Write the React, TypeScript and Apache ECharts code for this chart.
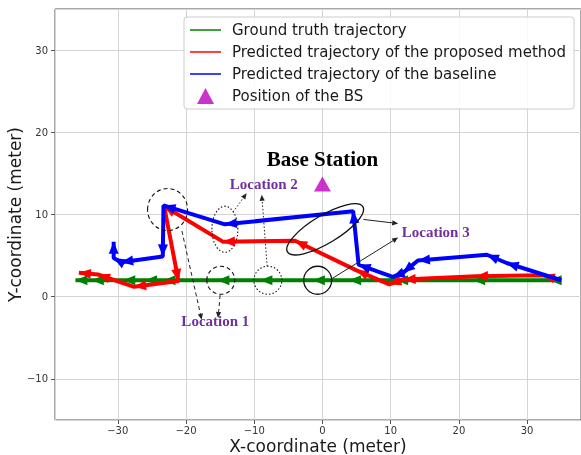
import React, { useEffect, useRef } from 'react';
import * as echarts from 'echarts';

// ---- data ----
const gtX = [35, 33.3, 22.1, 10.8, 9.3, 3.9, -1.4, -9.1, -15.4, -23.3, -26, -29.2, -33.8, -36.2];
const gtY = [2, 2, 2, 2, 2, 2, 2, 2, 2, 2, 2, 2, 2, 2];
const propX = [35, 32.3, 22.5, 11.9, 9.8, 5.0, -4.0, -14.6, -23.2, -21.1, -27.6, -32.9, -35.7];
const propY = [2, 2.6, 2.5, 2.1, 1.5, 3.2, 6.8, 6.7, 11.0, 1.9, 1.2, 2.7, 2.9];
const baseX = [35, 27, 24.1, 14, 11.8, 10.3, 5.3, 4.5, -14.3, -23.3, -23.4, -29.5, -30.6, -30.6];
const baseY = [2, 4.1, 5.1, 4.4, 2.9, 2.4, 3.9, 10.4, 8.8, 11.1, 4.9, 4.2, 4.7, 6.7];
const bsX = [0];
const bsY = [13.7];

const seriesNames = [
  'Ground truth trajectory',
  'Predicted trajectory of the proposed method',
  'Predicted trajectory of the baseline',
  'Position of the BS',
];

const xRange = [-39.2, 37.9];
const yRange = [-15, 35];

// annotation texts (data coordinates)
const labels = [
  { text: 'Base Station', at: [0, 16.8], size: 21, color: '#000000' },
  { text: 'Location 2', at: [-8.6, 13.7], size: 15, color: '#7030A0' },
  { text: 'Location 1', at: [-15.7, -2.9], size: 15, color: '#7030A0' },
  { text: 'Location 3', at: [16.6, 7.9], size: 15, color: '#7030A0' },
];

// ellipses: centre in data coords, radii in px
const rings = [
  { at: [-22.7, 10.6], rx: 20, ry: 21, rot: 0, dash: 'dashed' },
  { at: [-14.3, 8.2], rx: 13, ry: 23, rot: 0, dash: 'dotted' },
  { at: [-14.9, 2], rx: 14, ry: 14, rot: 0, dash: 'dashed' },
  { at: [-8, 2], rx: 14, ry: 14, rot: 0, dash: 'dotted' },
  { at: [-0.7, 2], rx: 14, ry: 14, rot: 0, dash: 'solid' },
  { at: [0.4, 8.2], rx: 44, ry: 14, rot: 31, dash: 'solid' },
];

// annotation arrows: from -> to (data coords)
const pointers = [
  { from: [-13.1, 10.3], to: [-11.1, 12.6], dash: 'dotted' },
  { from: [-8.1, 3.7], to: [-8.9, 12.4], dash: 'dotted' },
  { from: [-20.6, 8.0], to: [-17.7, -2.8], dash: 'dashed' },
  { from: [-15.0, 0.2], to: [-15.3, -2.6], dash: 'dashed' },
  { from: [6.0, 9.4], to: [11.1, 8.9], dash: 'solid' },
  { from: [1.2, 2.1], to: [11.1, 7.2], dash: 'solid' },
];

const ARROW = 'path://M0,0M10,24M5,12L10,24L0,24Z';
const LINE_ICON = 'path://M0,0M31,16M0,7.25L31,7.25L31,8.75L0,8.75Z';
const TRI_ICON = 'path://M0,0M31,16M7,16L15.5,0L24,16Z';

const colors = ['#008000', '#ff0000', '#0000ff', '#bf00bf'];

const dashOf = (d: string) => (d === 'dashed' ? [4, 3] : d === 'dotted' ? [1.5, 2] : null);

export default function App() {
  const ref = useRef<HTMLDivElement>(null);
  useEffect(() => {
    const chart = echarts.init(ref.current!, null, { renderer: 'svg' });
    const fmt = (v: number) => String(v).replace('-', '\u2212');
    const axisFont = { fontFamily: 'DejaVu Sans', fontSize: 10, color: '#333' };
    const pts = (xs: number[], ys: number[]) => xs.map((x, i) => [x, ys[i]]);
    const lineSeries = (i: number, xs: number[], ys: number[], data?: any[]) => ({
      type: 'line',
      name: seriesNames[i],
      data: data || pts(xs, ys),
      symbol: 'none',
      showSymbol: true,
      lineStyle: { color: colors[i], width: 4 },
      itemStyle: { color: colors[i], borderWidth: 0 },
      emphasis: { disabled: true },
      silent: true,
      z: 2 + i,
    });
    const bsSeries = {
      type: 'scatter',
      name: seriesNames[3],
      data: pts(bsX, bsY),
      symbol: 'triangle',
      symbolSize: [17, 15],
      itemStyle: { color: colors[3] },
      silent: true,
      z: 6,
    };
    const baseOption: any = {
      animation: false,
      grid: {
        left: 55, top: 9, right: 0, bottom: 35,
        outerBoundsMode: 'none', containLabel: false,
        show: true, borderColor: '#555', borderWidth: 1, backgroundColor: 'transparent',
      },
      xAxis: {
        type: 'value', min: xRange[0], max: xRange[1], minInterval: 10, maxInterval: 10,
        name: 'X-coordinate (meter)', nameLocation: 'middle', nameGap: 17, nameMoveOverlap: false,
        nameTextStyle: { fontFamily: 'DejaVu Sans', fontSize: 17, color: '#1a1a1a' },
        axisLine: { show: false, onZero: false },
        axisTick: { show: true, length: 4, lineStyle: { color: '#555' } },
        axisLabel: { ...axisFont, margin: 5, formatter: fmt, showMinLabel: false, showMaxLabel: false },
        splitLine: { show: true, lineStyle: { color: '#d4d4d4', width: 1 } },
      },
      yAxis: {
        type: 'value', min: yRange[0], max: yRange[1], minInterval: 10, maxInterval: 10,
        name: 'Y-coordinate (meter)', nameLocation: 'middle', nameGap: 32, nameMoveOverlap: false,
        nameTextStyle: { fontFamily: 'DejaVu Sans', fontSize: 17, color: '#1a1a1a' },
        axisLine: { show: false, onZero: false },
        axisTick: { show: true, length: 4, lineStyle: { color: '#555' } },
        axisLabel: { ...axisFont, margin: 7, formatter: fmt, showMinLabel: false, showMaxLabel: false },
        splitLine: { show: true, lineStyle: { color: '#d4d4d4', width: 1 } },
      },
      legend: {
        orient: 'vertical', left: 184, top: 17,
        padding: [5, 8, 5, 6], itemGap: 6, itemWidth: 31, itemHeight: 16,
        selectedMode: false,
        backgroundColor: 'rgba(255,255,255,0.85)', borderColor: '#cccccc', borderWidth: 1, borderRadius: 3,
        itemStyle: { borderWidth: 0 },
        textStyle: { fontFamily: 'DejaVu Sans', fontSize: 15, color: '#1a1a1a', padding: [0, 0, 0, 6] },
        data: [
          { name: seriesNames[0], icon: LINE_ICON },
          { name: seriesNames[1], icon: LINE_ICON },
          { name: seriesNames[2], icon: LINE_ICON },
          { name: seriesNames[3], icon: TRI_ICON },
        ],
      },
      series: [
        lineSeries(0, gtX, gtY),
        lineSeries(1, propX, propY),
        lineSeries(2, baseX, baseY),
        bsSeries,
      ],
    };
    chart.setOption(baseOption);

    const toPx = (p: number[]) => chart.convertToPixel({ gridIndex: 0 }, p) as number[];
    const withArrows = (xs: number[], ys: number[]) =>
      xs.map((x, i) => {
        if (i === 0) return { value: [x, ys[i]], symbol: 'none' };
        const p = toPx([x, ys[i]]);
        const q = toPx([xs[i - 1], ys[i - 1]]);
        const a = (Math.atan2(-(p[1] - q[1]), p[0] - q[0]) * 180) / Math.PI;
        return { value: [x, ys[i]], symbol: ARROW, symbolSize: [10, 24], symbolRotate: a - 90 };
      });

    const graphics: any[] = [];
    rings.forEach((r) => {
      const c = toPx(r.at);
      graphics.push({
        type: 'ellipse', x: c[0], y: c[1], rotation: (r.rot * Math.PI) / 180,
        shape: { cx: 0, cy: 0, rx: r.rx, ry: r.ry },
        style: { fill: 'none', stroke: '#111', lineWidth: r.dash === 'solid' ? 1.3 : 1.1, lineDash: dashOf(r.dash) },
        silent: true, z: 20,
      });
    });
    pointers.forEach((a) => {
      const s = toPx(a.from);
      const e = toPx(a.to);
      const ang = Math.atan2(e[1] - s[1], e[0] - s[0]);
      const L = 6, W = 2.6;
      const bx = e[0] - L * Math.cos(ang), by = e[1] - L * Math.sin(ang);
      const nx = -Math.sin(ang), ny = Math.cos(ang);
      graphics.push({
        type: 'line', shape: { x1: s[0], y1: s[1], x2: bx, y2: by },
        style: { stroke: '#222', lineWidth: 1, lineDash: dashOf(a.dash) }, silent: true, z: 20,
      });
      graphics.push({
        type: 'polygon',
        shape: { points: [[e[0], e[1]], [bx + nx * W, by + ny * W], [bx - nx * W, by - ny * W]] },
        style: { fill: '#222' }, silent: true, z: 20,
      });
    });
    labels.forEach((l) => {
      const c = toPx(l.at);
      graphics.push({
        type: 'text', x: c[0], y: c[1],
        style: {
          text: l.text, fill: l.color, font: `bold ${l.size}px "Liberation Serif", "Times New Roman", serif`,
          align: 'center', verticalAlign: 'middle',
        },
        silent: true, z: 20,
      });
    });

    chart.setOption({
      series: [
        lineSeries(0, gtX, gtY, withArrows(gtX, gtY)),
        lineSeries(1, propX, propY, withArrows(propX, propY)),
        lineSeries(2, baseX, baseY, withArrows(baseX, baseY)),
        bsSeries,
      ],
      graphic: graphics,
    });

    return () => chart.dispose();
  }, []);
  return <div ref={ref} style={{ position: 'fixed', left: 0, top: 0, width: 581, height: 455 }} />;
}
